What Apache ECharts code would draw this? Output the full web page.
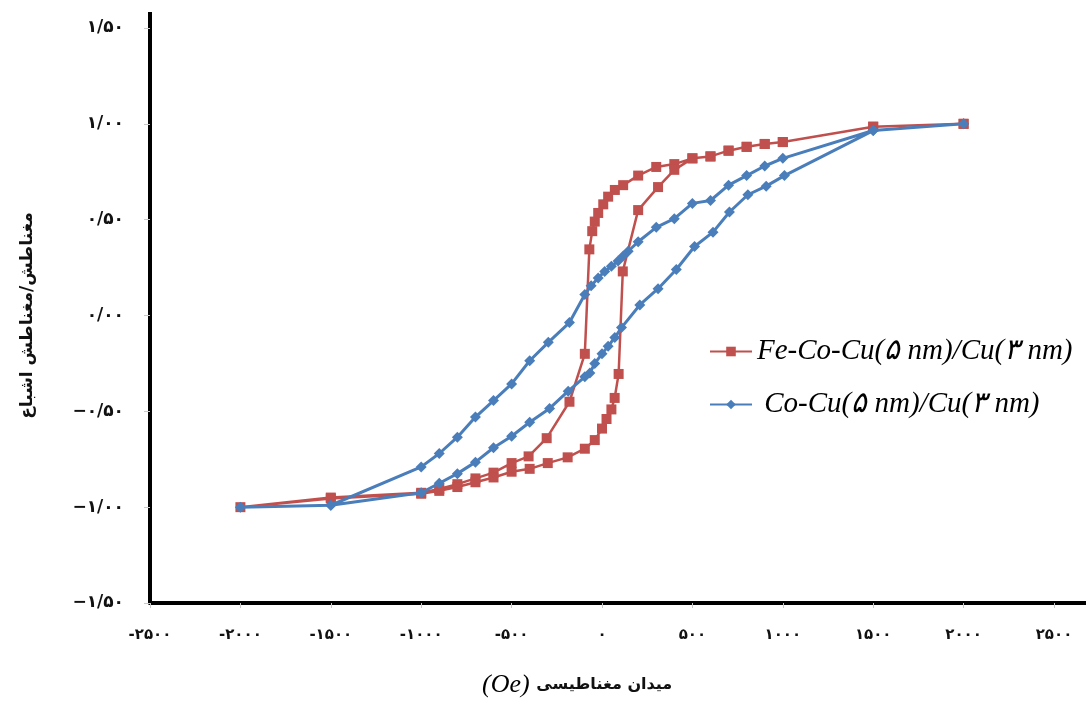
<!DOCTYPE html>
<html>
<head>
<meta charset="utf-8">
<script src="https://cdn.jsdelivr.net/npm/echarts@6/dist/echarts.min.js"></script>
<style>
html,body{margin:0;padding:0;background:#fff;}
#chart{width:1086px;height:715px;}
</style>
</head>
<body>
<div id="chart"></div>
<script>
// ---- data ----
const seriesNames = ['Fe-Co-Cu(\u06F5 nm)/Cu(\u06F3 nm)', ' Co-Cu(\u06F5 nm)/Cu(\u06F3 nm)'];

// Fe-Co-Cu : descending branch (from +2000 Oe) then ascending branch
const feDown = [
  [2000, 1.00], [1500, 0.985], [1000, 0.905], [900, 0.895], [800, 0.88], [700, 0.86],
  [600, 0.83], [500, 0.82], [400, 0.79], [300, 0.775], [200, 0.73], [117, 0.68],
  [71, 0.655], [34, 0.62], [7, 0.58], [-21, 0.535], [-40, 0.49], [-54, 0.44],
  [-70, 0.345], [-95, -0.20], [-180, -0.45], [-306, -0.64], [-406, -0.735],
  [-500, -0.77], [-600, -0.82], [-700, -0.85], [-800, -0.88], [-900, -0.905],
  [-1000, -0.925], [-1500, -0.95], [-2000, -1.00]
];
const feUp = [
  [-1500, -0.955], [-1000, -0.93], [-900, -0.915], [-800, -0.895], [-700, -0.87],
  [-600, -0.845], [-500, -0.815], [-400, -0.80], [-300, -0.77], [-190, -0.74],
  [-95, -0.695], [-40, -0.65], [0, -0.59], [25, -0.54], [52, -0.49], [70, -0.43],
  [92, -0.305], [115, 0.23], [200, 0.55], [310, 0.67], [400, 0.76], [500, 0.82],
  [600, 0.83], [700, 0.86], [800, 0.88], [900, 0.895], [1000, 0.905], [1500, 0.985], [2000, 1.00]
];

// Co-Cu : descending branch then ascending branch
const coDown = [
  [2000, 1.00], [1500, 0.965], [1000, 0.82], [900, 0.78], [800, 0.73], [700, 0.68],
  [600, 0.60], [500, 0.585], [400, 0.505], [300, 0.46], [200, 0.385], [145, 0.335],
  [117, 0.31], [89, 0.285], [52, 0.257], [15, 0.23], [-21, 0.196], [-60, 0.155],
  [-95, 0.11], [-180, -0.037], [-297, -0.14], [-400, -0.236], [-500, -0.357],
  [-600, -0.444], [-700, -0.53], [-800, -0.635], [-900, -0.72], [-1000, -0.79],
  [-1500, -0.99], [-2000, -1.00]
];
const coUp = [
  [-1500, -0.99], [-1000, -0.925], [-900, -0.875], [-800, -0.825], [-700, -0.765],
  [-600, -0.69], [-500, -0.63], [-400, -0.557], [-290, -0.485], [-187, -0.395],
  [-95, -0.32], [-67, -0.30], [-40, -0.25], [0, -0.20], [34, -0.16], [71, -0.115],
  [108, -0.063], [209, 0.055], [310, 0.14], [411, 0.24], [512, 0.36], [614, 0.435],
  [705, 0.54], [807, 0.63], [908, 0.675], [1009, 0.73], [1500, 0.965], [2000, 1.00]
];

const xTicks = [-2500, -2000, -1500, -1000, -500, 0, 500, 1000, 1500, 2000, 2500];
const xTickLabels = ['-\u06F2\u06F5\u06F0\u06F0', '-\u06F2\u06F0\u06F0\u06F0', '-\u06F1\u06F5\u06F0\u06F0', '-\u06F1\u06F0\u06F0\u06F0', '-\u06F5\u06F0\u06F0', '\u06F0', '\u06F5\u06F0\u06F0', '\u06F1\u06F0\u06F0\u06F0', '\u06F1\u06F5\u06F0\u06F0', '\u06F2\u06F0\u06F0\u06F0', '\u06F2\u06F5\u06F0\u06F0'];
const yTicks = [-1.5, -1, -0.5, 0, 0.5, 1, 1.5];
const yTickLabels = ['\u2212\u06F1/\u06F5\u06F0', '\u2212\u06F1/\u06F0\u06F0', '\u2212\u06F0/\u06F5\u06F0', '\u06F0/\u06F0\u06F0', '\u06F0/\u06F5\u06F0', '\u06F1/\u06F0\u06F0', '\u06F1/\u06F5\u06F0'];

const yAxisTitle = 'مغناطش/مغناطش اشباع';
const xAxisTitleFa = 'میدان مغناطیسی';
const xAxisTitleUnit = '(Oe)';

// ---- chart ----
const chart = echarts.init(document.getElementById('chart'));
const red = '#C0504D';
const blue = '#4A7EBB';

function lookup(ticks, labels, v) {
  for (let i = 0; i < ticks.length; i++) {
    if (Math.abs(ticks[i] - v) < 1e-6) return labels[i];
  }
  return '';
}

chart.setOption({
  animation: false,
  backgroundColor: '#fff',
  grid: { left: 150, right: 32, top: 28, bottom: 112, containLabel: false },
  xAxis: {
    type: 'value', min: -2500, max: 2500, interval: 500,
    axisLine: { show: true, onZero: false, lineStyle: { color: '#000', width: 4 } },
    axisTick: { show: true, length: 5, lineStyle: { color: '#c8c8c8', width: 1 } },
    splitLine: { show: false },
    axisLabel: {
      margin: 25, color: '#111', fontWeight: 'bold', fontSize: 15,
      fontFamily: 'DejaVu Sans',
      formatter: function (v) { return lookup(xTicks, xTickLabels, v); }
    }
  },
  yAxis: {
    type: 'value', min: -1.5, max: 1.5, interval: 0.5,
    name: yAxisTitle, nameLocation: 'middle', nameGap: 114, nameRotate: 90,
    nameTextStyle: { fontFamily: 'DejaVu Sans', fontWeight: 'bold', fontSize: 17, color: '#111' },
    axisLine: { show: true, onZero: false, lineStyle: { color: '#000', width: 4 } },
    axisTick: { show: true, length: 6, lineStyle: { color: '#c8c8c8', width: 1 } },
    splitLine: { show: false },
    axisLabel: {
      margin: 26, color: '#111', fontWeight: 'bold', fontSize: 17,
      fontFamily: 'DejaVu Sans',
      formatter: function (v) { return lookup(yTicks, yTickLabels, v); }
    }
  },
  legend: {
    orient: 'vertical', left: 704, top: 332, itemGap: 24, itemWidth: 42, itemHeight: 12,
    textStyle: { fontFamily: 'Liberation Serif', fontStyle: 'italic', fontSize: 29, color: '#000' },
    data: seriesNames
  },
  graphic: [{
    type: 'text', left: 482, top: 672,
    style: {
      text: '{u|' + xAxisTitleUnit + '}  {f|' + xAxisTitleFa + '}',
      rich: {
        u: { fontFamily: 'Liberation Serif', fontStyle: 'italic', fontSize: 26, fill: '#000' },
        f: { fontFamily: 'DejaVu Sans', fontWeight: 'bold', fontSize: 16, fill: '#111' }
      }
    }
  }],
  series: [
    {
      name: seriesNames[0], type: 'line', data: feDown.concat(feUp),
      symbol: 'rect', symbolSize: 10, showAllSymbol: true,
      lineStyle: { color: red, width: 2.5 }, itemStyle: { color: red },
      z: 2
    },
    {
      name: seriesNames[1], type: 'line', data: coDown.concat(coUp),
      symbol: 'diamond', symbolSize: 11, showAllSymbol: true,
      lineStyle: { color: blue, width: 3 }, itemStyle: { color: blue },
      z: 3
    }
  ]
});

// extend the axis lines slightly beyond the plot, as in the original figure
const corner = chart.convertToPixel({ gridIndex: 0 }, [-2500, -1.5]);
const topPt = chart.convertToPixel({ gridIndex: 0 }, [-2500, 1.5]);
const rightPt = chart.convertToPixel({ gridIndex: 0 }, [2500, -1.5]);
chart.setOption({
  graphic: [
    { type: 'text', left: 482, top: 672,
      style: {
        text: '{u|' + xAxisTitleUnit + '}  {f|' + xAxisTitleFa + '}',
        rich: {
          u: { fontFamily: 'Liberation Serif', fontStyle: 'italic', fontSize: 26, fill: '#000' },
          f: { fontFamily: 'DejaVu Sans', fontWeight: 'bold', fontSize: 16, fill: '#111' }
        }
      } },
    { type: 'line', shape: { x1: topPt[0], y1: topPt[1], x2: topPt[0], y2: topPt[1] - 16 },
      style: { stroke: '#000', lineWidth: 4 } },
    { type: 'line', shape: { x1: rightPt[0], y1: rightPt[1], x2: 1086, y2: rightPt[1] },
      style: { stroke: '#000', lineWidth: 4 } }
  ]
}, { replaceMerge: ['graphic'] });
</script>
</body>
</html>
